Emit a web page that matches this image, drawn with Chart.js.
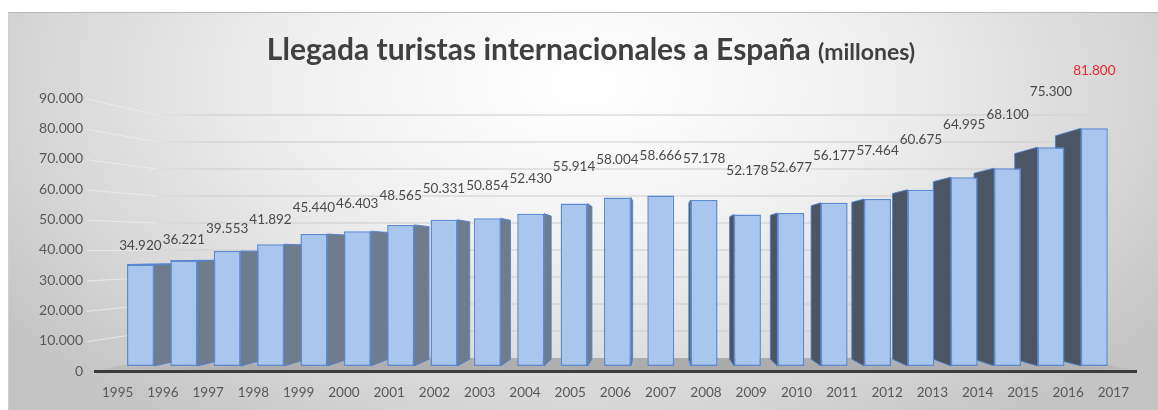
<!DOCTYPE html>
<html>
<head>
<meta charset="utf-8">
<script src="https://cdn.jsdelivr.net/npm/chart.js@4/dist/chart.umd.min.js"></script>
<style>
html, body { margin: 0; padding: 0; background: #fff; }
#wrap { position: relative; width: 1158px; height: 410px; overflow: hidden; }
#panel {
    position: absolute; left: 8px; top: 12px; right: 0; bottom: 0;
    border-top: 1px solid #b8b8b8; border-left: 1px solid #cfcfcf;
    background: radial-gradient(ellipse 62% 105% at 50% 18%, #ffffff 0%, #f3f3f3 35%, #dadada 72%, #c4c4c4 100%);
}
canvas { position: absolute; left: 0; top: 0; }
</style>
</head>
<body>
<div id="wrap"><div id="panel"></div><canvas id="chart" width="1158" height="410"></canvas></div>
<script>
// Data
const years = ['1995', '1996', '1997', '1998', '1999', '2000', '2001', '2002', '2003', '2004', '2005', '2006',
               '2007', '2008', '2009', '2010', '2011', '2012', '2013', '2014', '2015', '2016', '2017']
const arrivals = [34920, 36221, 39553, 41892, 45440, 46403, 48565, 50331, 50854, 52430, 55914, 58004,
                  58666, 57178, 52178, 52677, 56177, 57464, 60675, 64995, 68100, 75300, 81800]
const yTickValues = [0, 10000, 20000, 30000, 40000, 50000, 60000, 70000, 80000, 90000]

const titleMain = 'Llegada turistas internacionales a España'
const titleSub = '(millones)'

// Fake 3D perspective (Excel 3D column look)
const EYE_INDEX = 12          // vanishing point, in category units
const EYE_VALUE = 39000       // vanishing point, in value units
const DEPTH_FRONT = 0.042     // front face of the bars
const DEPTH_BACK = 0.10       // back face of the bars
const DEPTH_WALL = 0.11       // back wall / gridlines

function toDepth(v, eye, t) {
    return v * (1 - t) + eye * t
}

// range of a hidden axis so that bars land on the front plane at DEPTH_FRONT
function depthRange(min, max, eye, t) {
    return [(min - t * eye) / (1 - t), (max - t * eye) / (1 - t)]
}

function fmt(v) {
    return String(v).replace(/\B(?=(\d{3})+(?!\d))/g, '.')
}

const yMin = yTickValues[0]
const yMax = yTickValues[yTickValues.length - 1]
const xbRange = depthRange(-0.5, years.length - 0.5, EYE_INDEX, DEPTH_FRONT)
const ybRange = depthRange(yMin, yMax, EYE_VALUE, DEPTH_FRONT)

const FONT = 'Lato'

// floor, back wall and side wall gridlines
const scenePlugin = {
    id: 'scene',
    beforeDraw(chart) {
        const ctx = chart.ctx
        const xs = chart.scales.x, ys = chart.scales.y
        const px = v => xs.getPixelForValue(v)
        const py = v => ys.getPixelForValue(v)
        const n = years.length

        const fl = px(-0.5), fr = px(n - 0.5)
        const bl = px(toDepth(-0.5, EYE_INDEX, DEPTH_WALL))
        const br = px(toDepth(n - 0.5, EYE_INDEX, DEPTH_WALL))
        const f0 = py(yMin), b0 = py(toDepth(yMin, EYE_VALUE, DEPTH_WALL))

        ctx.save()
        // floor
        const g = ctx.createLinearGradient(fl, 0, fr, 0)
        g.addColorStop(0, 'rgba(130,130,130,0.10)')
        g.addColorStop(0.15, 'rgba(130,130,130,0.45)')
        g.addColorStop(0.6, 'rgba(130,130,130,0.55)')
        g.addColorStop(0.92, 'rgba(130,130,130,0.35)')
        g.addColorStop(1, 'rgba(130,130,130,0.05)')
        ctx.fillStyle = g
        ctx.beginPath()
        ctx.moveTo(fl, f0)
        ctx.lineTo(fr, f0)
        ctx.lineTo(br, b0)
        ctx.lineTo(bl, b0)
        ctx.closePath()
        ctx.fill()

        // gridlines on the back wall
        const gl = ctx.createLinearGradient(bl, 0, br + 30, 0)
        gl.addColorStop(0, 'rgba(200,200,200,0)')
        gl.addColorStop(0.06, 'rgba(200,200,200,0.9)')
        gl.addColorStop(0.9, 'rgba(200,200,200,0.9)')
        gl.addColorStop(1, 'rgba(200,200,200,0)')
        ctx.strokeStyle = gl
        ctx.lineWidth = 1.2
        yTickValues.forEach(v => {
            if (v === yMin) return
            const yb = py(toDepth(v, EYE_VALUE, DEPTH_WALL))
            ctx.beginPath()
            ctx.moveTo(bl, yb)
            ctx.lineTo(br + 30, yb)
            ctx.stroke()
        })

        // faint gridlines on the left side wall
        ctx.strokeStyle = 'rgba(238,238,238,0.8)'
        ctx.lineWidth = 1
        yTickValues.forEach(v => {
            if (v === yMin) return
            ctx.beginPath()
            ctx.moveTo(fl - 8, py(v) + 1)
            ctx.lineTo(bl, py(toDepth(v, EYE_VALUE, DEPTH_WALL)))
            ctx.stroke()
        })
        ctx.restore()
    }
}

// side faces of the columns
const sidesPlugin = {
    id: 'sides',
    beforeDatasetsDraw(chart) {
        const ctx = chart.ctx
        const ex = chart.scales.x.getPixelForValue(EYE_INDEX)
        const ey = chart.scales.y.getPixelForValue(EYE_VALUE)
        const s = (DEPTH_BACK - DEPTH_FRONT) / (1 - DEPTH_FRONT)
        const back = (x, y) => [x + s * (ex - x), y + s * (ey - y)]

        ctx.save()
        ctx.lineWidth = 1
        ctx.strokeStyle = 'rgba(80,130,205,0.9)'
        chart.getDatasetMeta(0).data.forEach(bar => {
            const {x, y, base, width} = bar.getProps(['x', 'y', 'base', 'width'], true)
            const xl = x - width / 2, xr = x + width / 2
            let edge = null, color = null
            if (xr < ex - 1) { edge = xr; color = '#6f7c8e' }
            else if (xl > ex + 1) { edge = xl; color = '#4b5563' }
            if (edge !== null) {
                const t = back(edge, y), b = back(edge, base)
                ctx.fillStyle = color
                ctx.beginPath()
                ctx.moveTo(edge, y)
                ctx.lineTo(t[0], t[1])
                ctx.lineTo(b[0], b[1])
                ctx.lineTo(edge, base)
                ctx.closePath()
                ctx.fill()
                ctx.stroke()
            }
            // top face when the top is below eye level
            if (y > ey) {
                const tl = back(xl, y), tr = back(xr, y)
                ctx.fillStyle = '#c0d6f3'
                ctx.beginPath()
                ctx.moveTo(xl, y)
                ctx.lineTo(xr, y)
                ctx.lineTo(tr[0], tr[1])
                ctx.lineTo(tl[0], tl[1])
                ctx.closePath()
                ctx.fill()
                ctx.stroke()
            }
        })
        ctx.restore()
    }
}

// value labels and title
const labelsPlugin = {
    id: 'labels',
    afterDatasetsDraw(chart) {
        const ctx = chart.ctx
        const ex = chart.scales.x.getPixelForValue(EYE_INDEX)
        ctx.save()
        ctx.font = '13.5px ' + FONT
        ctx.textAlign = 'center'
        ctx.textBaseline = 'middle'
        chart.getDatasetMeta(0).data.forEach((bar, i) => {
            const {x, y} = bar.getProps(['x', 'y'], true)
            ctx.fillStyle = i === arrivals.length - 1 ? '#e8262c' : '#4a4a4a'
            ctx.fillText(fmt(arrivals[i]), x, y - (40 + 0.04 * (x - ex)))
        })
        ctx.restore()
    },
    afterDraw(chart) {
        const ctx = chart.ctx
        ctx.save()
        ctx.fillStyle = '#404040'
        ctx.textBaseline = 'alphabetic'
        ctx.textAlign = 'left'
        const f1 = 'bold 30px ' + FONT, f2 = 'bold 23px ' + FONT
        ctx.font = f1
        const w1 = ctx.measureText(titleMain + ' ').width
        ctx.font = f2
        const w2 = ctx.measureText(titleSub).width
        const x0 = 591 - (w1 + w2) / 2
        ctx.font = f1
        ctx.fillText(titleMain, x0, 60)
        ctx.font = f2
        ctx.fillText(titleSub, x0 + w1, 60)
        ctx.restore()
    }
}

new Chart(document.getElementById('chart'), {
    type: 'bar',
    data: {
        labels: years,
        datasets: [{
            label: 'Llegada turistas internacionales',
            data: arrivals.map((v, i) => ({x: i, y: v})),
            xAxisID: 'xb',
            yAxisID: 'yb',
            backgroundColor: '#a8c6ee',
            borderColor: '#5a8bd3',
            borderWidth: 1.5,
            borderSkipped: false,
            categoryPercentage: 1,
            barPercentage: 0.62
        }]
    },
    options: {
        responsive: false,
        animation: false,
        layout: { padding: { left: 20, right: 22, top: 98, bottom: 4 } },
        plugins: {
            legend: { display: false },
            tooltip: { enabled: false },
            title: { display: false }
        },
        scales: {
            x: {
                type: 'category',
                position: 'bottom',
                offset: true,
                afterFit: s => { s.height = 35 },
                grid: { display: false, drawTicks: false },
                border: { display: true, color: '#3c3c3c', width: 3 },
                ticks: { color: '#595959', font: { family: FONT, size: 13.5 }, padding: 14, maxRotation: 0, autoSkip: false }
            },
            y: {
                type: 'linear',
                position: 'left',
                min: yMin,
                max: yMax,
                afterBuildTicks: s => { s.ticks = yTickValues.map(v => ({value: v})) },
                afterFit: s => { s.width = 75 },
                grid: { display: false, drawTicks: false },
                border: { display: false },
                ticks: { color: '#595959', font: { family: FONT, size: 14 }, padding: 12, callback: v => fmt(v) }
            },
            xb: {
                type: 'linear',
                display: false,
                offset: false,
                min: xbRange[0],
                max: xbRange[1],
                grid: { display: false }
            },
            yb: {
                type: 'linear',
                display: false,
                min: ybRange[0],
                max: ybRange[1],
                grid: { display: false }
            }
        }
    },
    plugins: [scenePlugin, sidesPlugin, labelsPlugin]
})
</script>
</body>
</html>
